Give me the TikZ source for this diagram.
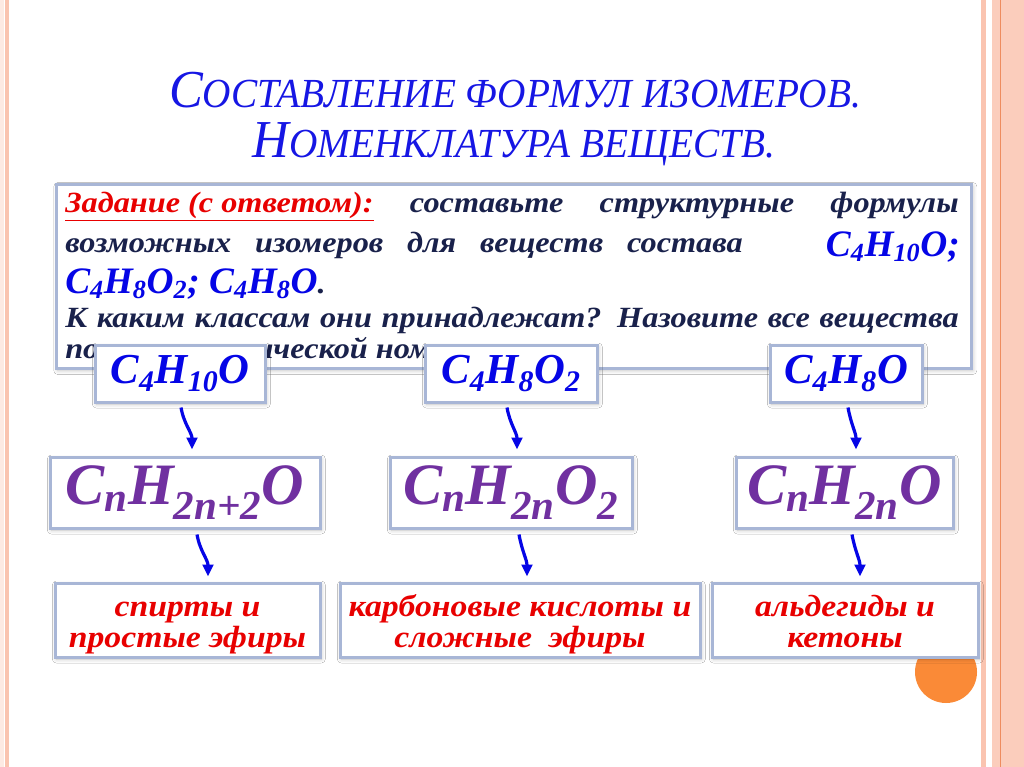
\documentclass[tikz,border=0pt]{standalone}
\usepackage{fontspec}
\setmainfont{Liberation Serif}
\newfontfamily\titlefont[FakeStretch=0.95]{Liberation Serif}
\newfontfamily\widefont[FakeStretch=1.1]{Liberation Serif}
\usetikzlibrary{positioning, arrows.meta, shadows.blur}
\usepackage{xcolor}
\definecolor{titleblue}{RGB}{22, 22, 228}
\definecolor{navy}{RGB}{25, 33, 75}
\definecolor{fblue}{RGB}{5, 5, 230}
\definecolor{fpurple}{RGB}{112, 48, 160}
\definecolor{tred}{RGB}{232, 0, 0}
\definecolor{boxedge}{RGB}{168, 182, 214}
\definecolor{stripe}{RGB}{250, 196, 176}
\definecolor{stripedark}{RGB}{238, 140, 95}
\definecolor{dotorange}{RGB}{250, 138, 55}
\newdimen\px \px=0.75pt
\newcommand{\tcap}[2]{{\fontsize{40}{40}\selectfont #1}{\fontsize{31}{31}\selectfont #2}}

\begin{document}
\begin{tikzpicture}[
  x=0.75pt, y=-0.75pt,
  every node/.style={font=\bfseries\itshape, inner sep=0pt},
  frame/.style={
    draw=boxedge, line width=3\px, fill=white,
    blur shadow={shadow xshift=1pt, shadow yshift=-1.5pt,
      shadow blur radius=3pt, shadow opacity=25},
  },
  title/.style={font=\titlefont\itshape, text=titleblue, anchor=base},
  body/.style={font=\widefont\bfseries\itshape\fontsize{22}{24}\selectfont, text=navy, anchor=base west},
  bigf/.style={font=\bfseries\itshape\fontsize{28}{30}\selectfont, text=fblue},
  formula/.style={frame, font=\bfseries\itshape\fontsize{32}{34}\selectfont, text=fblue, minimum height=57\px},
  general/.style={frame, font=\bfseries\itshape\fontsize{44}{46}\selectfont, text=fpurple, minimum height=71\px},
  klass/.style={frame, font=\widefont\bfseries\itshape\fontsize{23}{23}\selectfont, text=tred, align=center, minimum height=74\px},
  arr/.style={-{Triangle[length=9pt, width=8pt]}, line width=2.4pt, draw=fblue},
]
  \useasboundingbox (0,0) rectangle (1024,767);

  % slide frame
  \fill[white] (0,0) rectangle (1024,767);
  \fill[stripe!35] (0,0) rectangle (4,767);
  \fill[stripe] (5,0) rectangle (9,767);
  \fill[stripe] (981,0) rectangle (986,767);
  \fill[stripe!85] (992,0) rectangle (1024,767);
  \draw[stripedark, line width=1\px] (1000,0) -- (1000,767);

  % heading
  \node[title] (head1) at (515,108) {\tcap{С}{ОСТАВЛЕНИЕ ФОРМУЛ ИЗОМЕРОВ.}};
  \node[title] (head2) at (514,157) {\tcap{Н}{ОМЕНКЛАТУРА ВЕЩЕСТВ.}};

  % task
  \node[frame, anchor=north west, minimum width=915\px, minimum height=184\px] (task) at (55,183) {};
  \node[body] (zad1) at (65,212) {\makebox[670pt][s]{\textcolor{tred}{\underline{Задание (с ответом):}} составьте структурные формулы}};
  \node[body] (zad2) at (65,252) {\makebox[508pt][s]{возможных изомеров для веществ состава}};
  \node[bigf, anchor=base east] (zad2f) at (960,256) {C\textsubscript{4}H\textsubscript{10}O;};
  \node[body] (zad3) at (65,293) {{\normalfont\bfseries\itshape\color{fblue}\fontsize{28}{30}\selectfont C\textsubscript{4}H\textsubscript{8}O\textsubscript{2}; C\textsubscript{4}H\textsubscript{8}O}.};
  \node[body] (zad4) at (65,327) {\makebox[670pt][s]{К каким классам они принадлежат? Назовите все вещества}};
  \node[body] (zad5) at (65,358) {по систематической номенклатуре.};

  \fill[dotorange] (946,672) circle[radius=31];

  % formulas
  \node[formula, minimum width=170\px] (f1) at (180,373.5) {C\textsubscript{4}H\textsubscript{10}O};
  \node[formula, minimum width=172\px] (f2) at (511,373.5) {C\textsubscript{4}H\textsubscript{8}O\textsubscript{2}};
  \node[formula, minimum width=152\px] (f3) at (846,373.5) {C\textsubscript{4}H\textsubscript{8}O};

  \node[general, minimum width=270\px] (g1) at (185,492.5) {C\textsubscript{n}H\textsubscript{2n+2}O};
  \node[general, minimum width=242\px] (g2) at (511,492.5) {C\textsubscript{n}H\textsubscript{2n}O\textsubscript{2}};
  \node[general, minimum width=217\px] (g3) at (844.5,492.5) {C\textsubscript{n}H\textsubscript{2n}O};

  % classes
  \node[klass, minimum width=265\px] (k1) at (187.5,620) {\rule{0pt}{25pt}спирты и\\\strut простые эфиры};
  \node[klass, minimum width=360\px] (k2) at (520,620) {\rule{0pt}{25pt}карбоновые кислоты и\\\strut сложные\ \ эфиры};
  \node[klass, minimum width=266\px] (k3) at (845,620) {\rule{0pt}{25pt}альдегиды и\\\strut кетоны};

  \draw[arr] ([xshift=1\px, yshift=-4\px]f1.south) to[out=-80, in=90] ([xshift=7\px, yshift=6\px]g1.north);
  \draw[arr] ([xshift=-4\px, yshift=-4\px]f2.south) to[out=-80, in=90] ([xshift=6\px, yshift=6\px]g2.north);
  \draw[arr] ([xshift=2\px, yshift=-4\px]f3.south) to[out=-80, in=90] ([xshift=11.5\px, yshift=6\px]g3.north);
  \draw[arr] ([xshift=12\px, yshift=-5\px]g1.south) to[out=-80, in=90] ([xshift=20.5\px, yshift=5\px]k1.north);
  \draw[arr] ([xshift=8\px, yshift=-5\px]g2.south) to[out=-80, in=90] ([xshift=7\px, yshift=5\px]k2.north);
  \draw[arr] ([xshift=7.5\px, yshift=-5\px]g3.south) to[out=-80, in=90] ([xshift=15\px, yshift=5\px]k3.north);
\end{tikzpicture}
\end{document}
